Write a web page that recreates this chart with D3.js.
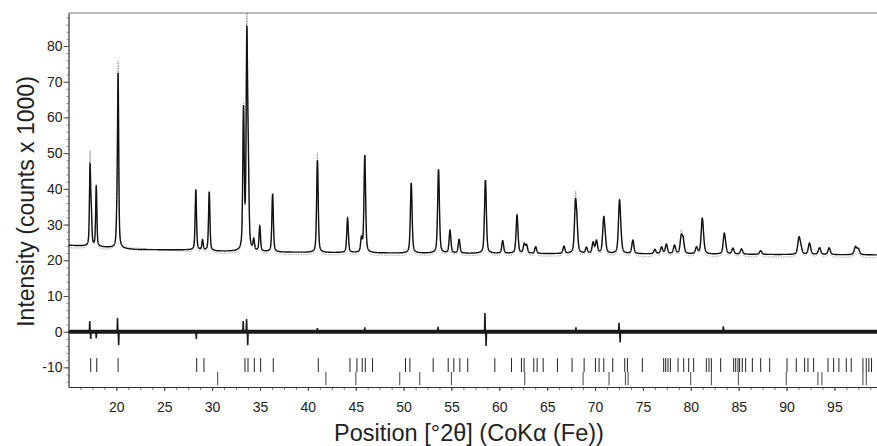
<!DOCTYPE html>
<html>
<head>
<meta charset="utf-8">
<script src="https://cdn.jsdelivr.net/npm/d3@7"></script>
<style>
body { margin: 0; background: #fff; }
text { font-family: Arial, "Liberation Sans", sans-serif; }
</style>
</head>
<body>
<svg id="chart" width="877" height="446"></svg>
<script>
const peakPos  = [17.25, 17.38, 17.9, 20.05, 20.18, 28.3, 29.0, 29.7, 33.28, 33.63, 33.78, 34.35, 34.98, 36.32,
                  41.0, 44.15, 45.6, 45.95, 50.8, 53.65, 54.85, 55.8, 58.55, 60.35, 61.85, 62.6, 62.85, 63.8,
                  66.75, 67.95, 68.1, 69.1, 69.8, 70.15, 70.9, 71.05, 72.55, 72.7, 73.95, 76.25, 76.95, 77.45,
                  78.3, 79.0, 79.2, 80.6, 81.2, 81.35, 83.5, 83.65, 84.4, 85.3, 87.3, 91.3, 91.5, 92.4, 93.45,
                  94.45, 97.2, 97.5];
const peakCalc = [47, 36, 41, 38, 72.5, 39.8, 25.8, 39.2, 63.5, 85.5, 54, 26.2, 29.6, 38.6,
                  48, 31.8, 26.8, 49.5, 41.7, 45.5, 28.5, 25.9, 42.5, 25.5, 32.7, 24.8, 24.5, 23.8,
                  24, 37, 33, 23.7, 25.2, 25.7, 32.2, 28.5, 36.9, 30, 25.7, 23.1, 23.8, 24.6,
                  24.3, 27.2, 26.6, 23.8, 31.8, 27, 27.6, 25, 23.4, 23.2, 22.7, 26.6, 24.6, 24.8, 23.5,
                  23.5, 23.9, 23.4];
const peakObs  = [50.8, 37, 41.2, 40, 75.8, 40, 26, 39.5, 64, 91, 55, 26.5, 30, 38.8,
                  50.1, 31.8, 27, 49.5, 41.7, 45.5, 28.5, 26, 42.5, 25.5, 32.7, 25, 24.5, 24,
                  24, 39.2, 33.6, 23.7, 25.2, 25.7, 32.2, 29, 37, 30, 25.7, 23.1, 23.8, 24.6,
                  24.3, 28.5, 26.6, 24, 31.8, 27, 27.6, 25, 23.6, 23.3, 22.7, 26.6, 24.6, 25, 23.8,
                  23.6, 24, 23.4];

// background break points
const bgX    = [15, 16.5, 19, 22, 28, 31, 40, 50, 60, 75, 90, 99.5];
const bgCalc = [24.2, 24.0, 23.6, 23.0, 22.9, 22.5, 22.2, 22.0, 21.9, 21.8, 21.6, 21.5];
const bgObs  = [23.5, 23.3, 22.9, 23.4, 22.3, 21.8, 21.5, 21.3, 21.2, 21.0, 20.9, 20.7];

// difference curve spikes (obs - calc)
const diffPos = [17.22, 17.32, 17.9, 20.12, 20.24, 28.35, 33.25, 33.6, 33.72, 41.0, 45.95, 53.6,
                 58.5, 58.62, 68.0, 72.5, 72.62, 83.4];
const diffVal = [3, -2, -1.8, 3.8, -3.8, -2, 3, 3.5, -3.8, 1, 1.2, 1.3,
                 5.2, -4, 1.2, 2.5, -3, 1.5];

// reflection markers, two phases
const phase1Ticks = [17.32, 17.95, 20.18, 28.39, 29.15, 33.43, 33.75, 34.41, 35.07, 36.39, 41.09, 44.4,
                     45.13, 45.68, 46.0, 46.76, 50.2, 50.66, 53.09, 54.66, 55.25, 55.88, 56.7, 59.53,
                     61.27, 62.31, 62.59, 63.6, 63.95, 64.58, 66.07, 67.6, 68.86, 70.04, 70.42, 70.91,
                     71.85, 73.1, 73.38, 74.94, 77.17, 77.38, 77.62, 77.87, 78.67, 79.26, 79.78, 80.3,
                     81.62, 81.9, 82.15, 83.12, 84.48, 84.69, 84.93, 85.1, 85.38, 85.73, 86.43, 87.3,
                     88.24, 90.05, 91.02, 91.89, 92.24, 92.83, 94.33, 94.92, 95.47, 96.24, 96.76, 97.98,
                     98.33, 98.6, 98.88];
const phase2Ticks = [30.58, 41.89, 45.02, 49.6, 51.69, 55.0, 62.66, 68.75, 71.46, 73.17, 73.45, 79.99,
                     82.15, 84.97, 89.97, 93.28, 93.7, 97.98, 98.33];

const xTicks = [20, 25, 30, 35, 40, 45, 50, 55, 60, 65, 70, 75, 80, 85, 90, 95];
const yTicks = [-10, 0, 10, 20, 30, 40, 50, 60, 70, 80];

const svg = d3.select("#chart");
const plot = {left: 68.5, right: 877, top: 13, bottom: 387};

const x = d3.scaleLinear().domain([15, 99.45]).range([plot.left, plot.right]);
const y = d3.scaleLinear().domain([-15.5, 89.25]).range([plot.bottom, plot.top]);

const bgC = d3.scaleLinear().domain(bgX).range(bgCalc);
const bgO = d3.scaleLinear().domain(bgX).range(bgObs);

// pseudo-Voigt profile
const fwhm = p => 0.14 + 0.002 * (p - 15);
function pv(dx, w) {
    const t = (2 * dx / w) * (2 * dx / w);
    return 0.5 / (1 + t) + 0.5 * Math.exp(-Math.LN2 * t);
}

// find amplitudes so the apexes hit the values
function amplitudes(heights, bg) {
    let amp = heights.map((h, i) => h - bg(peakPos[i]));
    for (let it = 0; it < 40; it++) {
        amp = heights.map((h, i) => {
            let other = 0;
            peakPos.forEach((p, j) => {
                if (j !== i) other += amp[j] * pv(peakPos[i] - p, fwhm(p));
            });
            return Math.max(0, h - bg(peakPos[i]) - other);
        });
    }
    return amp;
}
const ampC = amplitudes(peakCalc, bgC);
const ampO = amplitudes(peakObs, bgO);

const grid = d3.range(15, 99.45, 0.01);
function profile(amp, bg) {
    return grid.map(g => {
        let v = bg(g);
        peakPos.forEach((p, i) => {
            if (Math.abs(g - p) < 3) v += amp[i] * pv(g - p, fwhm(p));
        });
        return [g, Math.min(v, 89.25)];
    });
}
const calc = profile(ampC, bgC);
const obs = profile(ampO, bgO);
const diff = grid.map(g => {
    let v = 0;
    diffPos.forEach((p, i) => {
        const u = (g - p) / 0.03;
        v += diffVal[i] * Math.exp(-u * u);
    });
    return [g, v];
});

const line = d3.line().x(d => x(d[0])).y(d => y(d[1]));

// observed (grey dots)
svg.append("path").datum(obs)
    .attr("fill", "none").attr("stroke", "#8a8a8a")
    .attr("stroke-width", 1).attr("stroke-dasharray", "1.2,1.3")
    .attr("d", line);

// calculated
svg.append("path").datum(calc)
    .attr("fill", "none").attr("stroke", "#111")
    .attr("stroke-width", 1.4)
    .attr("d", line);

// difference: noise band along zero plus the spikes
svg.append("line")
    .attr("x1", x(15)).attr("x2", x(99.45)).attr("y1", y(0)).attr("y2", y(0))
    .attr("stroke", "#1a1a1a").attr("stroke-width", 4);
svg.append("path").datum(diff)
    .attr("fill", "none").attr("stroke", "#1a1a1a")
    .attr("stroke-width", 1.5)
    .attr("d", line);

// reflection markers
svg.append("g").selectAll("line").data(phase1Ticks).enter().append("line")
    .attr("x1", d => x(d)).attr("x2", d => x(d))
    .attr("y1", y(-7.4)).attr("y2", y(-11.3))
    .attr("stroke", "#222").attr("stroke-width", 1);
svg.append("g").selectAll("line").data(phase2Ticks).enter().append("line")
    .attr("x1", d => x(d)).attr("x2", d => x(d))
    .attr("y1", y(-11.3)).attr("y2", y(-15.0))
    .attr("stroke", "#444").attr("stroke-width", 1);

// axes
const yMinor = svg.append("g").attr("transform", "translate(" + plot.left + ",0)")
    .call(d3.axisLeft(y).tickValues(d3.range(-14, 89, 2)).tickSize(2).tickFormat(""));
yMinor.select(".domain").remove();
yMinor.selectAll("line").attr("stroke", "#888");

const yAxis = svg.append("g").attr("transform", "translate(" + plot.left + ",0)")
    .call(d3.axisLeft(y).tickValues(yTicks).tickSize(5).tickPadding(1).tickSizeOuter(0)
        .tickFormat(d => String(d)));

const xMinor = svg.append("g").attr("transform", "translate(0," + plot.bottom + ")")
    .call(d3.axisBottom(x).tickValues(d3.range(16.25, 99.4, 1.25)).tickSize(3).tickFormat(""));
xMinor.select(".domain").remove();
xMinor.selectAll("line").attr("stroke", "#777");

const xAxis = svg.append("g").attr("transform", "translate(0," + plot.bottom + ")")
    .call(d3.axisBottom(x).tickValues(xTicks).tickSize(4).tickPadding(11).tickSizeOuter(0));

[yAxis, xAxis].forEach(a => {
    a.select(".domain").attr("stroke", "#333").attr("stroke-width", 1.2);
    a.selectAll("line").attr("stroke", "#444");
    a.selectAll("text").attr("font-size", 14).attr("fill", "#222")
        .style("font-family", "Arial, 'Liberation Sans', sans-serif");
});

// top frame line
svg.append("line")
    .attr("x1", plot.left).attr("x2", plot.right).attr("y1", plot.top).attr("y2", plot.top)
    .attr("stroke", "#777").attr("stroke-width", 1.2);

// axis titles
svg.append("text")
    .attr("transform", "translate(34,201.5) rotate(-90)")
    .attr("text-anchor", "middle")
    .attr("font-size", 23).attr("fill", "#222")
    .text("Intensity (counts x 1000)");

svg.append("text")
    .attr("x", 469).attr("y", 441)
    .attr("text-anchor", "middle")
    .attr("font-size", 23.5).attr("fill", "#222")
    .text("Position [°2θ] (CoKα (Fe))");
</script>
</body>
</html>
